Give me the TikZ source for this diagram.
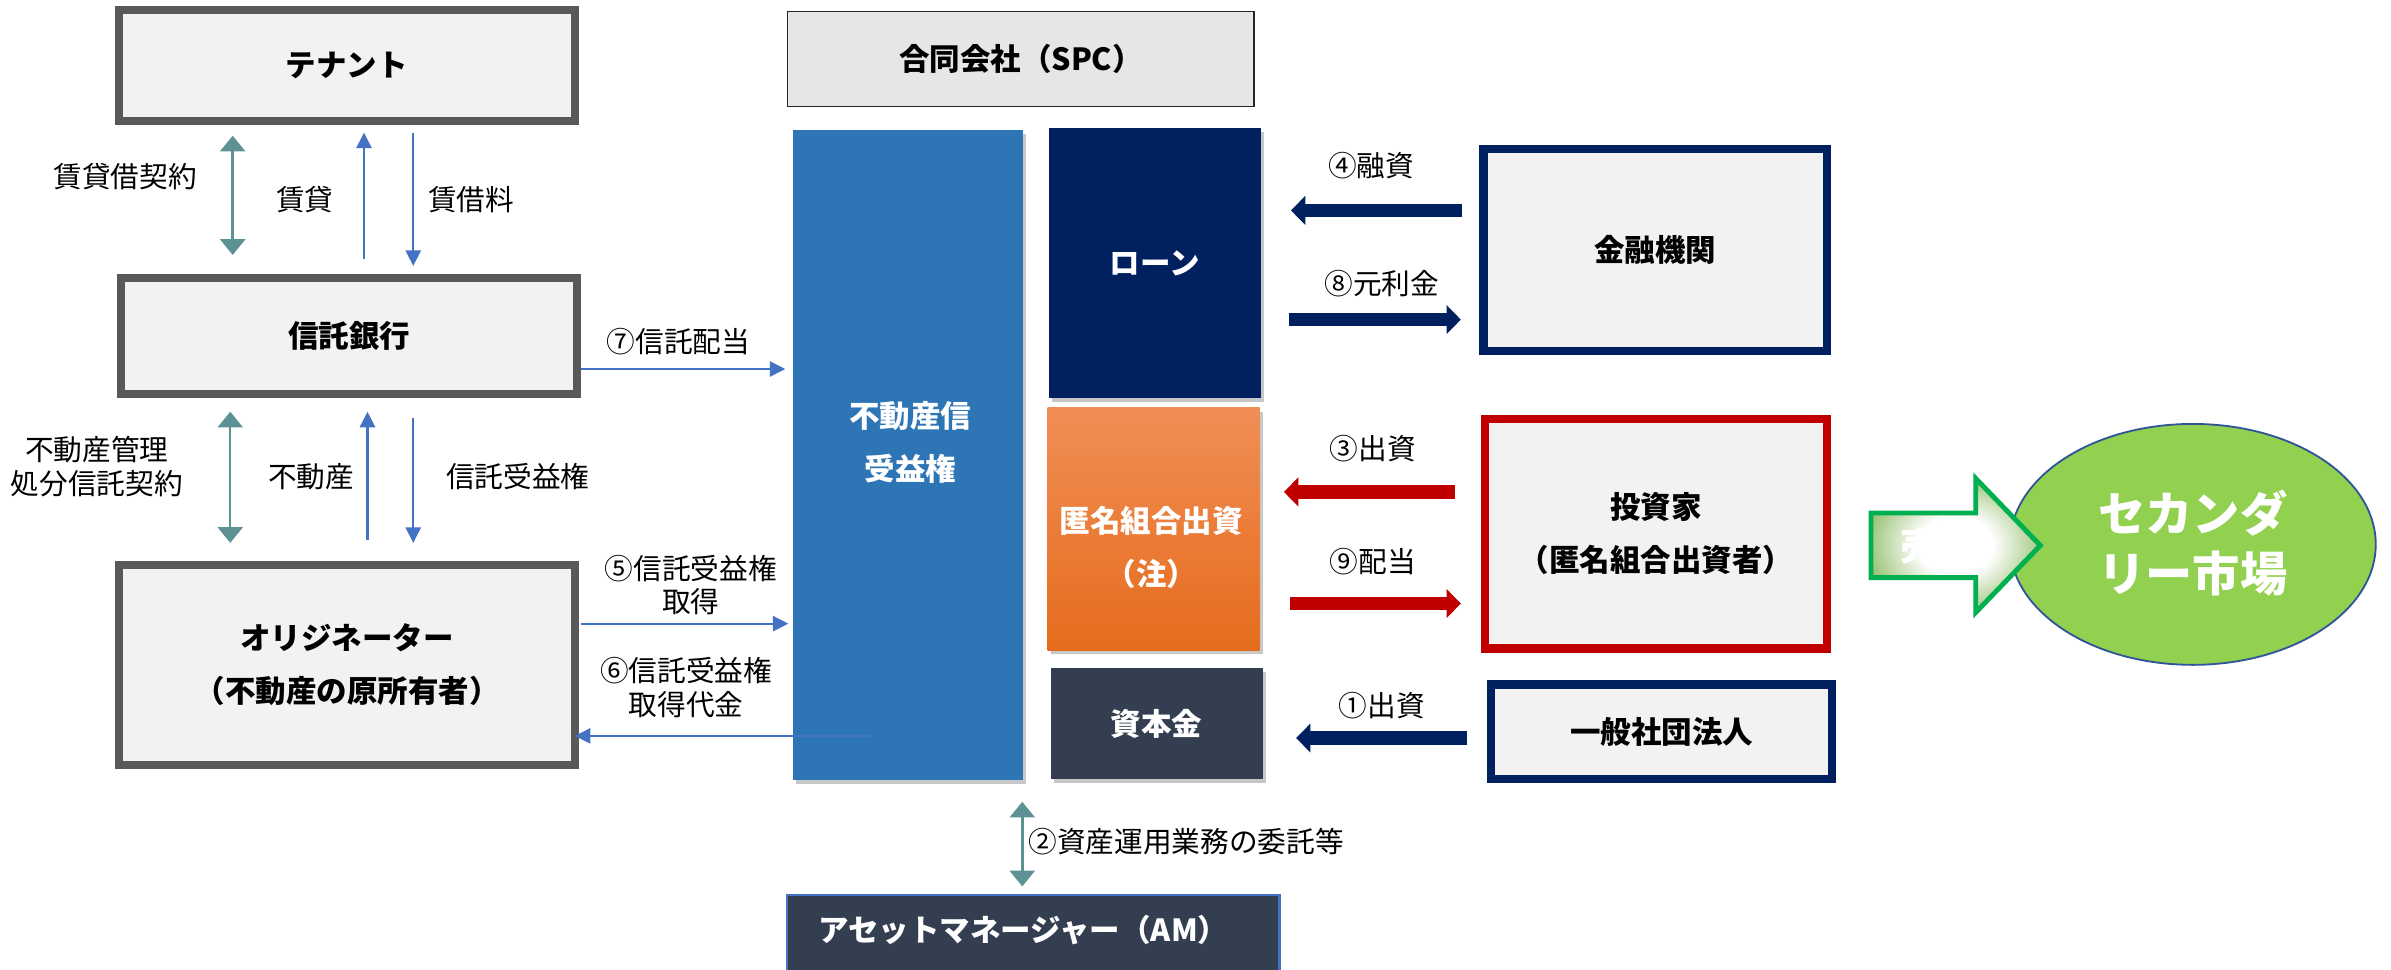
\documentclass[tikz,border=0pt]{standalone}
\usepackage{fontspec}
\setmainfont{Noto Sans CJK JP}
\usetikzlibrary{arrows.meta,shapes.geometric,shadows}
\definecolor{boxgray}{RGB}{89,89,89}
\definecolor{boxfill}{RGB}{242,242,242}
\definecolor{spcfill}{RGB}{231,230,230}
\definecolor{trblue}{RGB}{46,117,182}
\definecolor{navy}{RGB}{0,32,96}
\definecolor{orangetop}{RGB}{241,142,86}
\definecolor{orangebot}{RGB}{229,108,28}
\definecolor{slate}{RGB}{51,63,80}
\definecolor{amborder}{RGB}{68,114,196}
\definecolor{darkred}{RGB}{192,0,0}
\definecolor{lime}{RGB}{146,208,80}
\definecolor{ellborder}{RGB}{47,85,151}
\definecolor{arrgreen}{RGB}{0,176,80}
\definecolor{arrowfill}{RGB}{150,192,112}
\definecolor{tealc}{RGB}{94,145,148}
\definecolor{thinblue}{RGB}{68,114,196}
\pgfdeclareradialshading{greenarrowshade}{\pgfpoint{0bp}{0bp}}{color(0bp)=(white); color(11bp)=(white); color(27bp)=(arrowfill); color(50bp)=(arrowfill)}
\newcommand\fsz[2]{\fontsize{#1}{#2}\selectfont}
\tikzset{
  every node/.style={inner sep=0pt, outer sep=0pt},
  graybox/.style={draw=boxgray, line width=2.5pt, fill=boxfill, align=center, font=\bfseries\fsz{10pt}{17.5pt}},
  navybox/.style={draw=navy, line width=2.75pt, fill=boxfill, align=center, font=\bfseries\fsz{10pt}{17.5pt}},
  redbox/.style={draw=darkred, line width=2.75pt, fill=boxfill, align=center, font=\bfseries\fsz{10pt}{17.5pt}},
  spcpart/.style={drop shadow={shadow xshift=1pt, shadow yshift=-1.3pt, fill=black, opacity=0.22}},
  whitetxt/.style={text=white, align=center, font=\bfseries\fsz{10pt}{17.5pt}},
  lbl/.style={align=center, text=black, font=\fsz{9.4pt}{11pt}},
  tealarr/.style={draw=tealc, line width=0.8pt, {Triangle[length=5.15pt,width=8.2pt]}-{Triangle[length=5.15pt,width=8.2pt]}},
  bluearr/.style={draw=thinblue, line width=0.7pt, -{Triangle[length=5.1pt,width=5pt]}},
  navyarr/.style={draw=navy, line width=4.35pt, -{Triangle[length=4.7pt,width=9.3pt]}},
  redarr/.style={draw=darkred, line width=4.35pt, -{Triangle[length=4.7pt,width=9.3pt]}},
}
\begin{document}
\begin{tikzpicture}[x=0.5pt,y=-0.5pt]
\useasboundingbox (0,0) rectangle (1568,636);

% ---------- left column ----------
\node[graybox, minimum width=149.5pt, minimum height=36.5pt] (tenant) at (227.5,43) {テナント};
\node[graybox, minimum width=149.5pt, minimum height=38pt] (trust) at (229,220.5) {信託銀行};
\node[graybox, minimum width=149.5pt, minimum height=65.5pt] (orig) at (227.6,436) {オリジネーター\\（不動産の原所有者）};

\coordinate (t1a) at (152.6,89);   \coordinate (t1b) at (152.6,167.2);
\coordinate (b1a) at (238.7,170);  \coordinate (b1b) at (238.7,87);
\coordinate (b2a) at (271,87);     \coordinate (b2b) at (271,174.4);
\draw[tealarr] (t1a) -- (t1b);
\draw[bluearr] (b1a) -- (b1b);
\draw[bluearr] (b2a) -- (b2b);
\node[lbl] (l1) at (82,116) {賃貸借契約};
\node[lbl] (l2) at (200,131) {賃貸};
\node[lbl] (l3) at (309,131) {賃借料};

\coordinate (t2a) at (151,270);    \coordinate (t2b) at (151,356);
\coordinate (b3a) at (241,354);    \coordinate (b3b) at (241,270);
\coordinate (b4a) at (271,274);    \coordinate (b4b) at (271,356);
\draw[tealarr] (t2a) -- (t2b);
\draw[bluearr] (b3a) -- (b3b);
\draw[bluearr] (b4a) -- (b4b);
\node[lbl] (l4) at (63.5,306) {不動産管理\\処分信託契約};
\node[lbl] (l5) at (204,312.5) {不動産};
\node[lbl] (l6) at (339.5,312.5) {信託受益権};

% ---------- SPC ----------
\node[draw=black!85, line width=0.5pt, fill=spcfill, minimum width=153pt, minimum height=31.2pt, font=\bfseries\fsz{10pt}{12pt}] (spc) at (669.5,38.7) {合同会社（SPC）};

\node[spcpart, fill=trblue, minimum width=75.5pt, minimum height=213.25pt] (bene) at (595.5,298.25) {};
\node[whitetxt] (benet) at (597,290) {不動産信\\受益権};

\node[spcpart, fill=navy, minimum width=69.5pt, minimum height=88.5pt, text=white, font=\bfseries\fsz{10pt}{12pt}] (loan) at (757.3,172.5) {ローン};

\node[spcpart, top color=orangetop, bottom color=orangebot, minimum width=69.5pt, minimum height=79.5pt] (anon) at (756.5,347) {};
\node[whitetxt] (anont) at (755,359) {匿名組合出資\\（注）};

\node[spcpart, fill=slate, minimum width=69.5pt, minimum height=36.5pt, text=white, font=\bfseries\fsz{10pt}{12pt}] (cap) at (758.5,474.5) {資本金};

% ---------- AM ----------
\node[draw=amborder, line width=0.75pt, fill=slate, minimum width=161.5pt, minimum height=36.5pt] (am) at (677.5,623.5) {};
\node[text=white, font=\bfseries\fsz{10pt}{12pt}] (amt) at (671,610) {アセットマネージャー（AM）};
\coordinate (t3a) at (670.4,525.8); \coordinate (t3b) at (670.4,581.3);
\draw[tealarr] (t3a) -- (t3b);
\node[lbl, anchor=west] (l2am) at (674.5,552) {②資産運用業務の委託等};

% ---------- middle thin arrows ----------
\coordinate (a7a) at (381,242);  \coordinate (a7b) at (515,242);
\coordinate (a5a) at (381,409);  \coordinate (a5b) at (517,409);
\coordinate (a6a) at (572,482.6); \coordinate (a6b) at (377,482.6);
\draw[bluearr] (a7a) -- (a7b);
\draw[bluearr] (a5a) -- (a5b);
\draw[bluearr] (a6a) -- (a6b);
\node[lbl] (l7) at (445,224) {⑦信託配当};
\node[lbl] (l5b) at (453,383.6) {⑤信託受益権\\取得};
\node[lbl] (l6b) at (450,451) {⑥信託受益権\\取得代金};

% ---------- right boxes ----------
\node[navybox, minimum width=112.6pt, minimum height=66.3pt] (fin) at (1085.4,164) {金融機関};
\node[redbox, minimum width=112pt, minimum height=75.25pt] (inv) at (1086,350) {投資家\\（匿名組合出資者）};
\node[navybox, minimum width=111.9pt, minimum height=31pt] (gen) at (1089.6,479.8) {一般社団法人};

% ---------- thick arrows ----------
\coordinate (a4a) at (959,138);   \coordinate (a4b) at (846.6,138);
\coordinate (a8a) at (845,209.6); \coordinate (a8b) at (958,209.6);
\coordinate (a3a) at (954,322.6); \coordinate (a3b) at (842,322.6);
\coordinate (a9a) at (846,395.8); \coordinate (a9b) at (958,395.8);
\coordinate (a1a) at (961.8,484); \coordinate (a1b) at (850,484);
\draw[navyarr] (a4a) -- (a4b);
\draw[navyarr] (a8a) -- (a8b);
\draw[redarr] (a3a) -- (a3b);
\draw[redarr] (a9a) -- (a9b);
\draw[navyarr] (a1a) -- (a1b);
\node[lbl, anchor=west] (l4r) at (871,108.5) {④融資};
\node[lbl, anchor=west] (l8r) at (868.5,186) {⑧元利金};
\node[lbl, anchor=west] (l3r) at (872,294.5) {③出資};
\node[lbl, anchor=west] (l9r) at (872,368.5) {⑨配当};
\node[lbl, anchor=west] (l1r) at (878,463) {①出資};

% ---------- secondary market ----------
\node[ellipse, draw=ellborder, line width=0.6pt, fill=lime, minimum width=120pt, minimum height=79pt] (sec) at (1438,357) {};
\node[text=white, align=center, font=\bfseries\fsz{15.5pt}{19.8pt}] (sect) at (1438,356) {セカンダ\\リー市場};

\path[draw=arrgreen, line width=1.6pt, line join=miter, shading=greenarrowshade]
  (1227,336.4) -- (1295.7,336.4) -- (1295.7,313.8) -- (1338,357.7) -- (1295.7,401.6) -- (1295.7,378.8) -- (1227,378.8) -- cycle;
\begin{scope}
\clip (1228,338) rectangle (1294,377);
\node[text=white, font=\bfseries\fsz{12.5pt}{15pt}] (sell) at (1271,358) {売却};
\end{scope}
\end{tikzpicture}
\end{document}
